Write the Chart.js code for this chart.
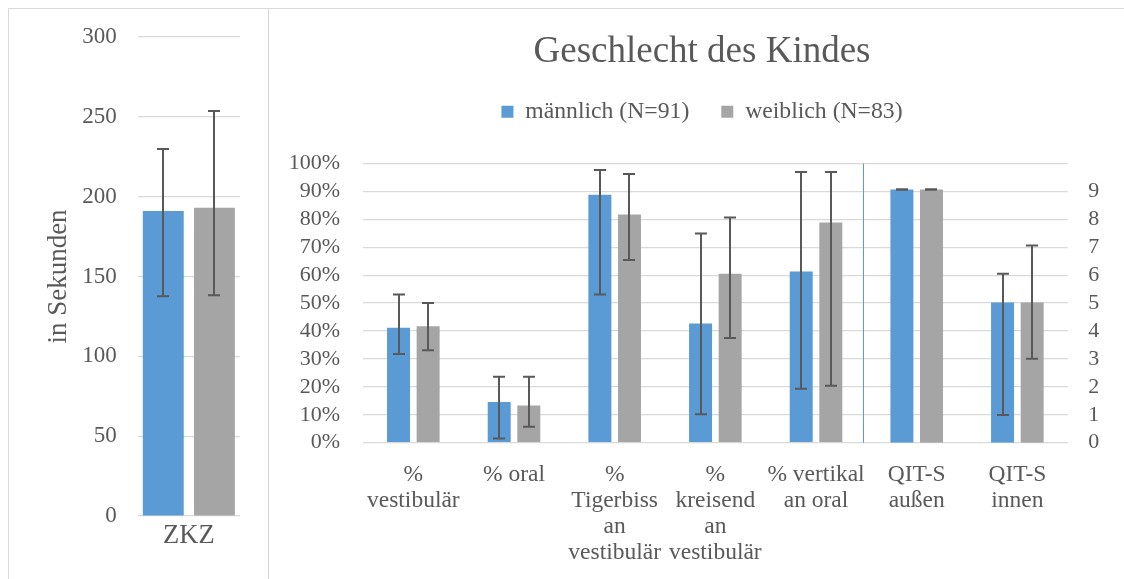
<!DOCTYPE html>
<html lang="de">
<head>
<meta charset="utf-8">
<title>Geschlecht des Kindes</title>
<script src="https://cdn.jsdelivr.net/npm/chart.js@4.4.1/dist/chart.umd.min.js"></script>
<style>
  html, body { margin: 0; padding: 0; background: #fff; }
  body { width: 1124px; height: 579px; position: relative; overflow: hidden; }
  #frame { position: absolute; left: 8px; top: 8px; width: 1130px; height: 590px; border-top: 1px solid #d9d9d9; border-left: 1px solid #d9d9d9; }
  #sep { position: absolute; left: 268px; top: 8px; width: 1px; height: 590px; background: #d4d4d4; }
  #leftBox { position: absolute; left: 9px; top: 9px; width: 259px; height: 570px; }
  #rightBox { position: absolute; left: 270px; top: 9px; width: 854px; height: 570px; }
</style>
</head>
<body>
<div id="frame"></div>
<div id="sep"></div>
<div id="leftBox"><canvas id="zkzChart"></canvas></div>
<div id="rightBox"><canvas id="sexChart"></canvas></div>
<script>
// --- dados ---
const zkzLabels = ['ZKZ'];
const zkzMale = [191];
const zkzFemale = [193];
const zkzMaleLow = [137.6];
const zkzMaleHigh = [229.9];
const zkzFemaleLow = [138.3];
const zkzFemaleHigh = [253.7];

const categories = [
  ['%', 'vestibulär'],
  ['% oral'],
  ['%', 'Tigerbiss', 'an', 'vestibulär'],
  ['%', 'kreisend', 'an', 'vestibulär'],
  ['% vertikal', 'an oral'],
  ['QIT-S', 'außen'],
  ['QIT-S', 'innen']
];
// Prozentwerte (linke Achse)
const malePct = [41.2, 14.6, 88.8, 42.7, 61.3, null, null];
const femalePct = [41.7, 13.3, 81.7, 60.5, 78.9, null, null];
const malePctLow = [31.8, 1.5, 53.1, 10.2, 19.3, null, null];
const malePctHigh = [53.1, 23.6, 97.7, 74.9, 97.0, null, null];
const femalePctLow = [33.1, 5.7, 65.4, 37.5, 20.4, null, null];
const femalePctHigh = [50.0, 23.6, 96.2, 80.7, 97.0, null, null];
// QIT-S Werte (rechte Achse)
const maleQit = [null, null, null, null, null, 9.07, 5.02];
const femaleQit = [null, null, null, null, null, 9.07, 5.02];
const maleQitLow = [null, null, null, null, null, 9.06, 0.99];
const maleQitHigh = [null, null, null, null, null, 9.08, 6.05];
const femaleQitLow = [null, null, null, null, null, 9.06, 3.01];
const femaleQitHigh = [null, null, null, null, null, 9.08, 7.06];

const seriesNames = ['männlich (N=91)', 'weiblich (N=83)'];

const blue = '#5b9bd5';
const gray = '#a5a5a5';
const textColor = '#595959';
const gridColor = '#d9d9d9';
const serif = '"Liberation Serif", "Times New Roman", serif';

Chart.defaults.color = textColor;
Chart.defaults.font.family = serif;

// Fehlerbalken (min / max) über die Skalen gezeichnet
const errorBars = {
  id: 'errorBars',
  afterDatasetsDraw(chart, args, opts) {
    const ctx = chart.ctx;
    ctx.save();
    ctx.strokeStyle = '#595959';
    ctx.lineWidth = 2;
    chart.data.datasets.forEach((ds, i) => {
      if (!ds.errLow) return;
      const meta = chart.getDatasetMeta(i);
      const scale = chart.scales[meta.yAxisID];
      meta.data.forEach((bar, j) => {
        if (ds.data[j] == null || ds.errLow[j] == null) return;
        const x = Math.round(bar.x);
        const yLo = scale.getPixelForValue(ds.errLow[j]);
        const yHi = scale.getPixelForValue(ds.errHigh[j]);
        const w = opts.cap / 2;
        ctx.beginPath();
        ctx.moveTo(x, yLo); ctx.lineTo(x, yHi);
        ctx.moveTo(x - w, yLo); ctx.lineTo(x + w, yLo);
        ctx.moveTo(x - w, yHi); ctx.lineTo(x + w, yHi);
        ctx.stroke();
      });
    });
    ctx.restore();
  }
};

// blaue Trennlinie zwischen Prozent- und QIT-Kategorien
const divider = {
  id: 'divider',
  beforeDatasetsDraw(chart) {
    const xs = chart.scales.x;
    const x = (xs.getPixelForValue(4) + xs.getPixelForValue(5)) / 2 - 3;
    const ctx = chart.ctx;
    ctx.save();
    ctx.strokeStyle = blue;
    ctx.lineWidth = 1;
    ctx.beginPath();
    ctx.moveTo(Math.round(x) + 0.5, chart.chartArea.top);
    ctx.lineTo(Math.round(x) + 0.5, chart.chartArea.bottom);
    ctx.stroke();
    ctx.restore();
  }
};

// mehr Platz unter der Legende
const legendSpace = {
  id: 'legendSpace',
  beforeInit(chart) {
    const fit = chart.legend.fit;
    chart.legend.fit = function () {
      fit.call(this);
      this.height = 95.5;
    };
  }
};

// --- linkes Diagramm: ZKZ ---
new Chart(document.getElementById('zkzChart'), {
  type: 'bar',
  data: {
    labels: zkzLabels,
    datasets: [
      { label: seriesNames[0], data: zkzMale, backgroundColor: blue, errLow: zkzMaleLow, errHigh: zkzMaleHigh },
      { label: seriesNames[1], data: zkzFemale, backgroundColor: gray, errLow: zkzFemaleLow, errHigh: zkzFemaleHigh }
    ]
  },
  options: {
    responsive: true,
    maintainAspectRatio: false,
    animation: false,
    layout: { padding: { top: 28, right: 28, left: 0, bottom: 0 } },
    datasets: { bar: { categoryPercentage: 1.0, barPercentage: 0.8 } },
    plugins: {
      legend: { display: false },
      tooltip: { enabled: false },
      errorBars: { cap: 12 }
    },
    scales: {
      x: {
        grid: { display: false, drawTicks: false },
        border: { display: false },
        ticks: { padding: 5.5, font: { size: 26.5, lineHeight: 1.13 } },
        afterFit: s => { s.height = 63; }
      },
      y: {
        min: 0,
        max: 300,
        ticks: { stepSize: 50, padding: 21, font: { size: 23 } },
        grid: { color: gridColor, lineWidth: 1.25, drawTicks: false },
        border: { display: false },
        title: {
          display: true,
          text: 'in Sekunden',
          font: { size: 27, lineHeight: 1.13 },
          padding: { top: 35, bottom: 0 }
        },
        afterFit: s => { s.width = 128.7; s.paddingTop = 0; s.paddingBottom = 0; }
      }
    }
  },
  plugins: [errorBars]
});

// --- rechtes Diagramm: Geschlecht des Kindes ---
new Chart(document.getElementById('sexChart'), {
  type: 'bar',
  data: {
    labels: categories,
    datasets: [
      { label: seriesNames[0], data: malePct, backgroundColor: blue, yAxisID: 'y', stack: 'm', errLow: malePctLow, errHigh: malePctHigh },
      { label: seriesNames[1], data: femalePct, backgroundColor: gray, yAxisID: 'y', stack: 'w', errLow: femalePctLow, errHigh: femalePctHigh },
      { label: seriesNames[0], data: maleQit, backgroundColor: blue, yAxisID: 'y1', stack: 'm', errLow: maleQitLow, errHigh: maleQitHigh },
      { label: seriesNames[1], data: femaleQit, backgroundColor: gray, yAxisID: 'y1', stack: 'w', errLow: femaleQitLow, errHigh: femaleQitHigh }
    ]
  },
  options: {
    responsive: true,
    maintainAspectRatio: false,
    animation: false,
    layout: { padding: { top: 0, right: 0, left: 10, bottom: 0 } },
    datasets: { bar: { categoryPercentage: 0.588, barPercentage: 0.777 } },
    plugins: {
      title: {
        display: true,
        text: 'Geschlecht des Kindes',
        color: textColor,
        font: { size: 37, weight: 'normal', lineHeight: 1.2 },
        padding: { top: 20.8, bottom: -6.2 }
      },
      legend: {
        labels: {
          font: { size: 23.7 },
          boxWidth: 12,
          boxHeight: 12,
          padding: 32,
          filter: item => item.datasetIndex < 2
        }
      },
      tooltip: { enabled: false },
      errorBars: { cap: 12 }
    },
    scales: {
      x: {
        grid: { display: false, drawTicks: false },
        border: { display: false },
        ticks: { padding: 19, autoSkip: false, maxRotation: 0, minRotation: 0, font: { size: 23.5, lineHeight: 1.11 } },
        afterFit: s => { s.height = 136.3; }
      },
      y: {
        position: 'left',
        min: 0,
        max: 100,
        ticks: { stepSize: 10, autoSkip: false, padding: 23, font: { size: 22 }, callback: v => v + '%' },
        grid: { color: gridColor, lineWidth: 1.25, drawTicks: false },
        border: { display: false },
        afterFit: s => { s.width = 83; }
      },
      y1: {
        position: 'right',
        min: 0,
        max: 10,
        ticks: { stepSize: 1, autoSkip: false, padding: 20.6, font: { size: 22 } },
        afterBuildTicks: s => { s.ticks = s.ticks.filter(t => t.value <= 9); },
        grid: { display: false, drawTicks: false },
        border: { display: false },
        afterFit: s => { s.width = 56.3; }
      }
    }
  },
  plugins: [errorBars, divider, legendSpace]
});
</script>
</body>
</html>
